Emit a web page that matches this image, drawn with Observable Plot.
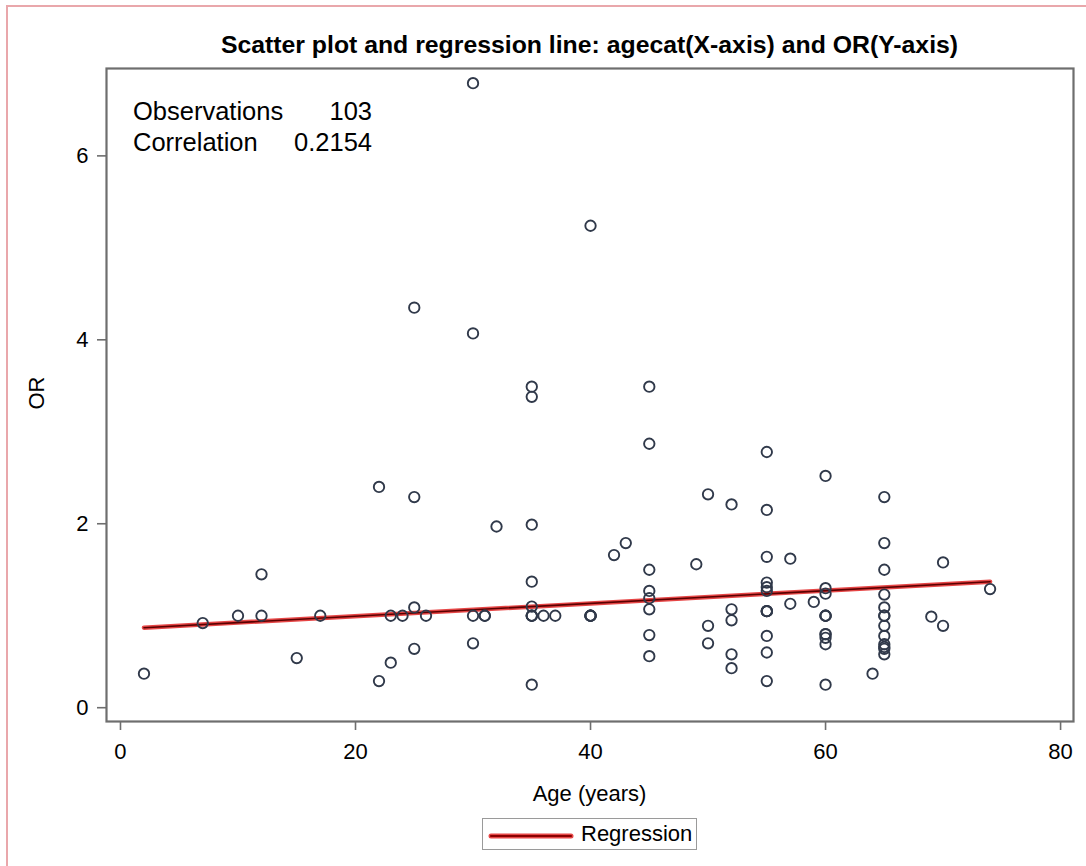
<!DOCTYPE html>
<html>
<head>
<meta charset="utf-8">
<script src="https://cdn.jsdelivr.net/npm/d3@7"></script>
<script src="https://cdn.jsdelivr.net/npm/@observablehq/plot@0.6"></script>
<style>
  html, body { margin: 0; padding: 0; background: #fff; }
  #wrap { position: relative; width: 1086px; height: 866px; overflow: hidden; font-family: "Liberation Sans", Arial, sans-serif; color: #000; }
  #border { position: absolute; left: 6px; top: 5px; width: 1200px; height: 1000px; border-top: 2px solid #e9a7ab; border-left: 2px solid #e9a7ab; }
  #chart { position: absolute; left: 0; top: 0; }
  #title { position: absolute; left: 106px; width: 967px; top: 31px; text-align: center; font-weight: bold; font-size: 24.8px; line-height: 28px; white-space: nowrap; }
  #stats { position: absolute; left: 133px; top: 96px; font-size: 25.5px; line-height: 31px; }
  #stats .row { display: flex; width: 239px; justify-content: space-between; }
  #xlabel { position: absolute; left: 106px; width: 967px; top: 783px; text-align: center; font-size: 22px; line-height: 22px; white-space: nowrap; }
  #ylabel { position: absolute; left: 37px; top: 393px; transform: translate(-50%, -50%) rotate(-90deg); font-size: 22px; line-height: 22px; white-space: nowrap; }
  #legend { position: absolute; left: 482px; top: 818px; width: 213px; height: 30px; border: 1.5px solid #9a9a9a; box-sizing: content-box; }
  #legend svg { position: absolute; left: 0; top: 0; }
  #legend span { position: absolute; left: 98px; top: 3px; font-size: 22px; line-height: 24px; }
</style>
</head>
<body>
<div id="wrap">
  <div id="border"></div>
  <div id="chart"></div>
  <div id="title"></div>
  <div id="stats"></div>
  <div id="xlabel"></div>
  <div id="ylabel"></div>
  <div id="legend"></div>
</div>
<script>
// ---- data ----
const titleText = "Scatter plot and regression line: agecat(X-axis) and OR(Y-axis)";
const xLabel = "Age (years)";
const yLabel = "OR";
const xTicks = [0, 20, 40, 60, 80];
const yTicks = [0, 2, 4, 6];
const statLabels = ["Observations", "Correlation"];
const statValues = ["103", "0.2154"];
const legendLabel = "Regression";

const age = [
  2, 7, 10, 12, 12, 15, 17, 22, 22, 23, 23, 24, 25, 25, 25, 25, 26,
  30, 30, 30, 30, 31, 31, 32, 35, 35, 35, 35, 35, 35, 35, 35, 35, 36, 37,
  40, 40, 40, 40, 40, 42, 43, 45, 45, 45, 45, 45, 45, 45, 45,
  49, 50, 50, 50, 52, 52, 52, 52, 52,
  55, 55, 55, 55, 55, 55, 55, 55, 55, 55, 55, 55,
  57, 57, 59,
  60, 60, 60, 60, 60, 60, 60, 60, 60, 60, 60,
  64,
  65, 65, 65, 65, 65, 65, 65, 65, 65, 65, 65, 65, 65,
  69, 70, 70, 74
];
const orValue = [
  0.37, 0.92, 1.00, 1.00, 1.45, 0.54, 1.00, 2.40, 0.29, 1.00, 0.49, 1.00, 4.35, 2.29, 1.09, 0.64, 1.00,
  6.79, 4.07, 1.00, 0.70, 1.00, 1.00, 1.97, 3.49, 3.38, 1.99, 1.37, 1.10, 1.00, 1.00, 1.00, 0.25, 1.00, 1.00,
  5.24, 1.00, 1.00, 1.00, 1.00, 1.66, 1.79, 3.49, 2.87, 1.50, 1.27, 1.19, 1.07, 0.79, 0.56,
  1.56, 2.32, 0.89, 0.70, 2.21, 1.07, 0.95, 0.58, 0.43,
  2.78, 2.15, 1.64, 1.36, 1.31, 1.27, 1.05, 1.05, 1.05, 0.78, 0.60, 0.29,
  1.62, 1.13, 1.15,
  2.52, 1.30, 1.24, 1.00, 1.00, 1.00, 0.80, 0.80, 0.76, 0.69, 0.25,
  0.37,
  2.29, 1.79, 1.50, 1.23, 1.09, 1.00, 1.00, 0.89, 0.78, 0.69, 0.66, 0.64, 0.58,
  0.99, 1.58, 0.89, 1.29
];
// regression line end points
const regAge = [2, 74];
const regOR = [0.87, 1.37];

// ---- build ----
const points = age.map((a, i) => ({age: a, or: orValue[i]}));
const reg = regAge.map((a, i) => ({age: a, or: regOR[i]}));

const tickFont = '"Liberation Sans", Arial, sans-serif';

const plot = Plot.plot({
  width: 1086,
  height: 866,
  marginLeft: 106,
  marginRight: 13,
  marginTop: 68,
  marginBottom: 145,
  style: {fontFamily: '"Liberation Sans", Arial, sans-serif', fontSize: "22px", color: "#000", background: "transparent"},
  x: {domain: [-1.19, 81.1]},
  y: {domain: [-0.15, 6.95]},
  marks: [
    Plot.axisX({ticks: xTicks, tickSize: 9, tickPadding: 13, stroke: "#6e6e6e", strokeWidth: 1.6,
      fontSize: 22, fontFamily: tickFont, label: null}),
    Plot.axisY({ticks: yTicks, tickSize: 9, tickPadding: 9, stroke: "#6e6e6e", strokeWidth: 1.6,
      fontSize: 22, fontFamily: tickFont, label: null}),
    Plot.line(reg, {x: "age", y: "or", stroke: "#e01818", strokeWidth: 4.5, strokeOpacity: 0.8}),
    Plot.line(reg, {x: "age", y: "or", stroke: "#5a0000", strokeWidth: 1.6}),
    Plot.dot(points, {x: "age", y: "or", r: 5.2, stroke: "#30394a", strokeWidth: 1.9, fill: "none"}),
    Plot.frame({stroke: "#6e6e6e", strokeWidth: 2.2})
  ]
});
document.getElementById("chart").appendChild(plot);

document.getElementById("title").textContent = titleText;
document.getElementById("xlabel").textContent = xLabel;
document.getElementById("ylabel").textContent = yLabel;

const stats = document.getElementById("stats");
statLabels.forEach((s, i) => {
  const row = document.createElement("div");
  row.className = "row";
  const a = document.createElement("span"); a.textContent = s;
  const b = document.createElement("span"); b.textContent = statValues[i];
  row.appendChild(a); row.appendChild(b);
  stats.appendChild(row);
});

const legend = document.getElementById("legend");
legend.innerHTML = '<svg width="213" height="30"><line x1="8" y1="17" x2="88" y2="17" stroke="#e01818" stroke-width="5" stroke-linecap="round" stroke-opacity="0.8"/><line x1="8" y1="17" x2="88" y2="17" stroke="#8a0000" stroke-width="2.2" stroke-linecap="round"/></svg>';
const lt = document.createElement("span");
lt.textContent = legendLabel;
legend.appendChild(lt);
</script>
</body>
</html>
